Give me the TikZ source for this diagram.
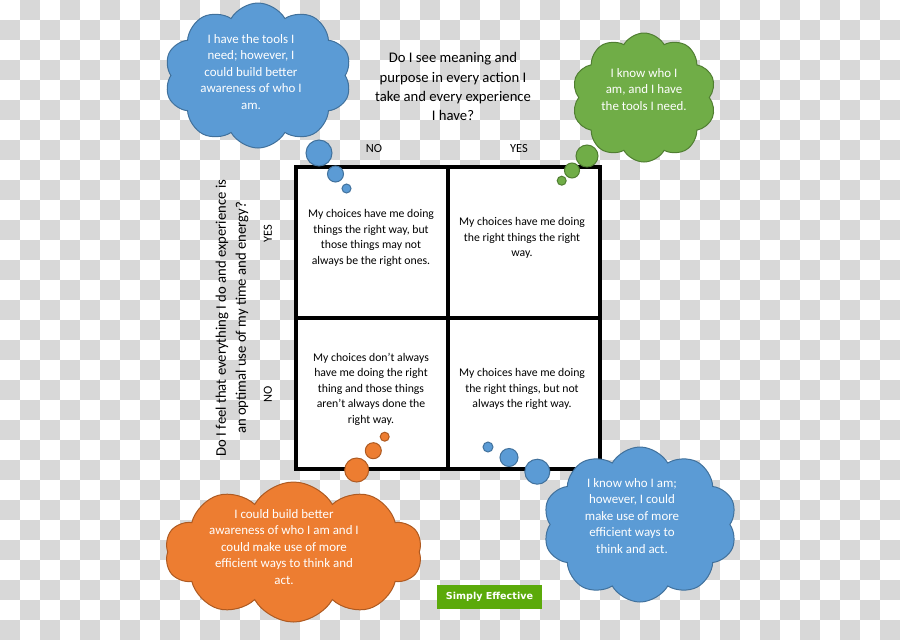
\documentclass[tikz,border=0pt]{standalone}
\usepackage{fontspec}
\setmainfont{Carlito}
\newfontfamily\btnfont{DejaVu Sans}
\usetikzlibrary{shapes.symbols}
\definecolor{checker}{RGB}{216,216,216}
\definecolor{cblue}{HTML}{5B9BD5}
\definecolor{cblueb}{HTML}{41719C}
\definecolor{cgreen}{HTML}{70AD47}
\definecolor{cgreenb}{HTML}{507E32}
\definecolor{corange}{HTML}{ED7D31}
\definecolor{coranb}{HTML}{AE5A21}
\definecolor{btngreen}{HTML}{5BAA0A}
\tikzset{
  thought/.style 2 args={cloud, cloud puffs=10, cloud puff arc=120, cloud ignores aspect,
    fill=#1, draw=#2, line width=0.75pt, inner sep=0pt},
  bubble/.style 2 args={circle, fill=#1, draw=#2, line width=0.75pt, inner sep=0pt},
  cellbox/.style={rectangle, draw=black, fill=white, line width=3.4pt, inner sep=0pt,
    minimum width=152*0.75pt, minimum height=151*0.75pt},
  celltext/.style={align=center, inner sep=0pt, font=\fontsize{8.8pt}{11.6pt}\selectfont},
  cloudtext/.style={align=center, inner sep=0pt, text=white, font=\fontsize{9.7pt}{12.4pt}\selectfont},
  question/.style={align=center, inner sep=0pt, font=\fontsize{11pt}{14.3pt}\selectfont},
  axislabel/.style={inner sep=0pt, font=\fontsize{9.3pt}{10pt}\selectfont},
}
\begin{document}
\begin{tikzpicture}[x=0.75pt,y=-0.75pt]
\useasboundingbox (0,0) rectangle (900,640);
\fill[white] (0,0) rectangle (900,640);
\foreach \j in {0,40,...,600} {
  \foreach \i in {20,60,...,860} { \fill[checker] (\i,\j) rectangle ++(20,20); }
}
\foreach \j in {20,60,...,620} {
  \foreach \i in {0,40,...,880} { \fill[checker] (\i,\j) rectangle ++(20,20); }
}

% grid
\node[cellbox] (c11) at (372,242.5) {};
\node[cellbox] (c12) at (524,242.5) {};
\node[cellbox] (c21) at (372,393.5) {};
\node[cellbox] (c22) at (524,393.5) {};

\node[celltext] (t11) at (371,238) {My choices have me doing\\things the right way, but\\those things may not\\always be the right ones.};
\node[celltext] (t12) at (522,238) {My choices have me doing\\the right things the right\\way.};
\node[celltext] (t21) at (371,389) {My choices don’t always\\have me doing the right\\thing and those things\\aren’t always done the\\right way.};
\node[celltext] (t22) at (522,389) {My choices have me doing\\the right things, but not\\always the right way.};

% questions and labels
\node[question] (q1) at (453,86.5) {Do I see meaning and\\purpose in every action I\\take and every experience\\I have?};
\node[axislabel] (no1) at (374,149) {NO};
\node[axislabel] (yes1) at (519,149) {YES};
\node[question, rotate=90, font=\fontsize{11pt}{15pt}\selectfont] (q2) at (232,318) {Do I feel that everything I do and experience is\\an optimal use of my time and energy?};
\node[axislabel, rotate=90] (yes2) at (268,234) {YES};
\node[axislabel, rotate=90] (no2) at (268,394) {NO};

% blue top-left cloud
\node[bubble={cblue}{cblueb}, minimum size=26*0.75pt] (a1) at (319,153) {};
\node[bubble={cblue}{cblueb}, minimum size=16*0.75pt] (a2) at (335.5,174) {};
\node[bubble={cblue}{cblueb}, minimum size=9*0.75pt] (a3) at (346.5,188.5) {};
\node[thought={cblue}{cblueb}, minimum width=187*0.75pt, minimum height=145*0.75pt] (ca) at (258,75.5) {};
\node[cloudtext] (ta) at (251,72) {I have the tools I\\need; however, I\\could build better\\awareness of who I\\am.};

% green top-right cloud
\node[thought={cgreen}{cgreenb}, minimum width=144*0.75pt, minimum height=129*0.75pt] (cb) at (644,97.5) {};
\node[bubble={cgreen}{cgreenb}, minimum size=22*0.75pt] (b1) at (587,156) {};
\node[bubble={cgreen}{cgreenb}, minimum size=15*0.75pt] (b2) at (572,170.5) {};
\node[bubble={cgreen}{cgreenb}, minimum size=9*0.75pt] (b3) at (561.7,180.7) {};
\node[cloudtext] (tb) at (644,89.5) {I know who I\\am, and I have\\the tools I need.};

% orange bottom-left cloud
\node[bubble={corange}{coranb}, minimum size=9*0.75pt] (o3) at (384.7,436.7) {};
\node[bubble={corange}{coranb}, minimum size=16*0.75pt] (o2) at (373.3,450.7) {};
\node[bubble={corange}{coranb}, minimum size=24*0.75pt] (o1) at (356.7,470) {};
\node[thought={corange}{coranb}, minimum width=257*0.75pt, minimum height=140*0.75pt] (cc) at (293.5,552) {};
\node[cloudtext] (tc) at (284,547) {I could build better\\awareness of who I am and I\\could make use of more\\efficient ways to think and\\act.};

% blue bottom-right cloud
\node[bubble={cblue}{cblueb}, minimum size=10*0.75pt] (d3) at (488,447) {};
\node[bubble={cblue}{cblueb}, minimum size=18*0.75pt] (d2) at (509,457.5) {};
\node[bubble={cblue}{cblueb}, minimum size=25*0.75pt] (d1) at (537.3,471.7) {};
\node[thought={cblue}{cblueb}, minimum width=194*0.75pt, minimum height=155*0.75pt] (cd) at (640,524.5) {};
\node[cloudtext] (td) at (632,516) {I know who I am;\\however, I could\\make use of more\\efficient ways to\\think and act.};

% button
\node[rectangle, fill=btngreen, inner sep=0pt, minimum width=105*0.75pt, minimum height=24*0.75pt,
  text=white, font=\btnfont\bfseries\fontsize{7.2pt}{8pt}\selectfont] (btn) at (489.5,597) {Simply Effective};
\end{tikzpicture}
\end{document}
